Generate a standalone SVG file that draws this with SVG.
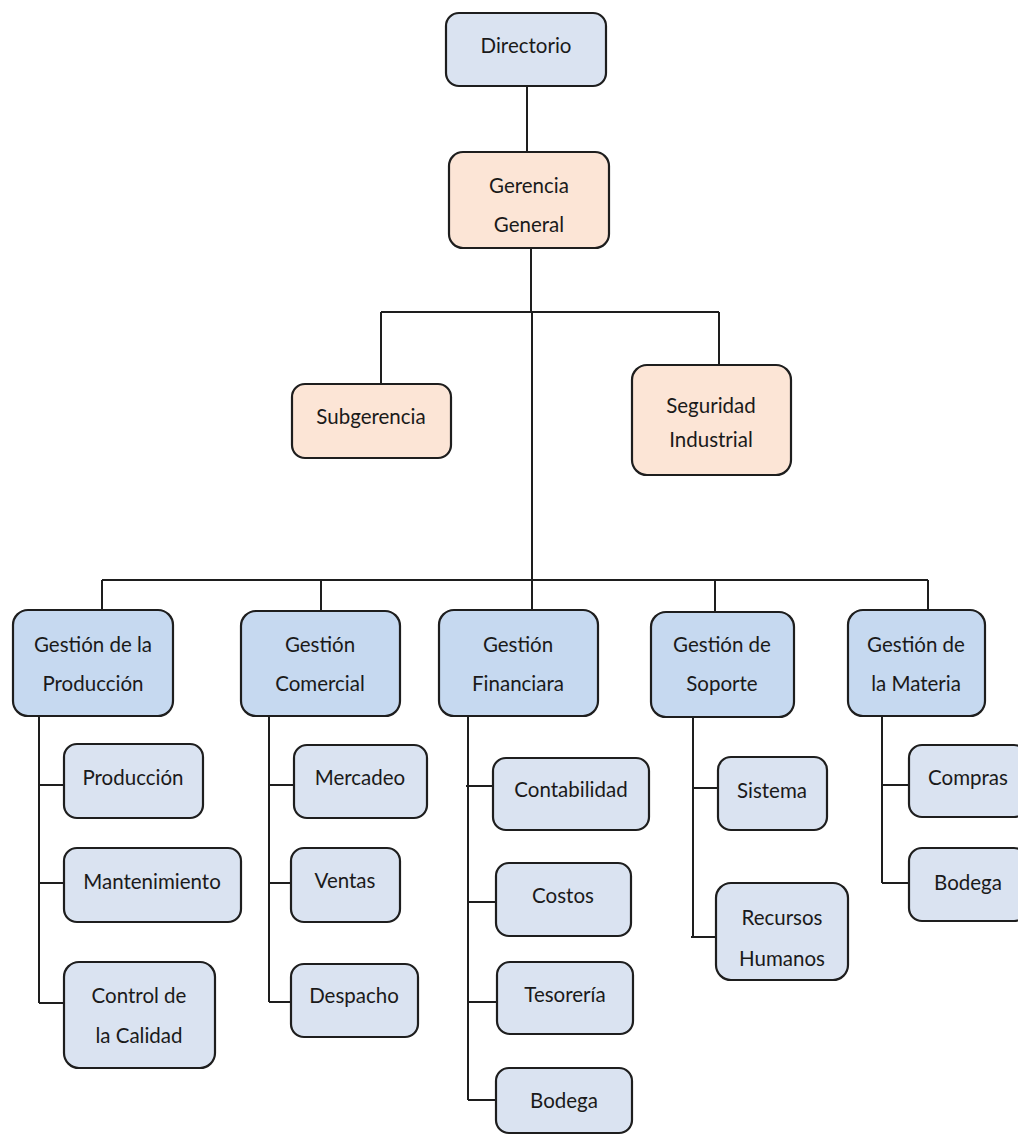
<svg xmlns="http://www.w3.org/2000/svg" width="1018" height="1137" viewBox="0 0 1018 1137">
  <style>
    .box { stroke: #1e1e1e; stroke-width: 2.2; }
    .blue { fill: #dae3f1; }
    .peach { fill: #fce5d6; }
    .mid { fill: #c6d9f0; }
    .lbl { font-family: Lato, "Open Sans", "Liberation Sans", sans-serif; font-size: 20.5px; fill: #1a1a1a; text-anchor: middle; }
    .wire { fill: none; stroke: #1e1e1e; stroke-width: 2; }
  </style>
  <rect width="1018" height="1137" fill="#ffffff"/>

  <!-- connectors -->
  <g id="connectors" class="wire">
    <path d="M527 86V152"/>
    <path d="M531 248V312M381 312H719M381 312V384M719 312V365M532 312V580"/>
    <path d="M102 580H928M102 580V610M321 580V611M532 580V610M715 580V612M928 580V610"/>
    <path d="M39 716V1003M39 785H64M39 883H64M39 1003H64"/>
    <path d="M269 716V1002M269 785H294M269 883H291M269 1002H291"/>
    <path d="M468 716V1100M466 786H493M468 902H496M468 1002H497M468 1100H496"/>
    <path d="M693 717V937M693 788H718M691 937H716"/>
    <path d="M882 716V883M882 785H909M882 883H909"/>
  </g>

  <!-- top levels -->
  <g id="directorio">
    <rect class="box blue" x="446" y="13" width="160" height="73" rx="13"/>
    <text class="lbl" x="526" y="53">Directorio</text>
  </g>
  <g id="gerencia-general">
    <rect class="box peach" x="449" y="152" width="160" height="96" rx="14"/>
    <text class="lbl" x="529" y="193">Gerencia</text>
    <text class="lbl" x="529" y="232">General</text>
  </g>
  <g id="subgerencia">
    <rect class="box peach" x="292" y="384" width="159" height="74" rx="13"/>
    <text class="lbl" x="371" y="424">Subgerencia</text>
  </g>
  <g id="seguridad-industrial">
    <rect class="box peach" x="632" y="365" width="159" height="110" rx="15"/>
    <text class="lbl" x="711" y="413">Seguridad</text>
    <text class="lbl" x="711" y="447">Industrial</text>
  </g>

  <!-- management areas -->
  <g id="gestion-produccion">
    <rect class="box mid" x="13" y="610" width="160" height="106" rx="15"/>
    <text class="lbl" x="93" y="652">Gestión de la</text>
    <text class="lbl" x="93" y="691">Producción</text>
  </g>
  <g id="gestion-comercial">
    <rect class="box mid" x="241" y="611" width="159" height="105" rx="15"/>
    <text class="lbl" x="320" y="652">Gestión</text>
    <text class="lbl" x="320" y="691">Comercial</text>
  </g>
  <g id="gestion-financiara">
    <rect class="box mid" x="439" y="610" width="159" height="106" rx="15"/>
    <text class="lbl" x="518" y="652">Gestión</text>
    <text class="lbl" x="518" y="691">Financiara</text>
  </g>
  <g id="gestion-soporte">
    <rect class="box mid" x="651" y="612" width="143" height="105" rx="15"/>
    <text class="lbl" x="722" y="652">Gestión de</text>
    <text class="lbl" x="722" y="691">Soporte</text>
  </g>
  <g id="gestion-materia">
    <rect class="box mid" x="848" y="610" width="137" height="106" rx="15"/>
    <text class="lbl" x="916" y="652">Gestión de</text>
    <text class="lbl" x="916" y="691">la Materia</text>
  </g>

  <!-- units: producción -->
  <g id="produccion">
    <rect class="box blue" x="64" y="744" width="139" height="74" rx="13"/>
    <text class="lbl" x="133" y="785">Producción</text>
  </g>
  <g id="mantenimiento">
    <rect class="box blue" x="64" y="848" width="177" height="74" rx="13"/>
    <text class="lbl" x="152" y="889">Mantenimiento</text>
  </g>
  <g id="control-calidad">
    <rect class="box blue" x="64" y="962" width="151" height="106" rx="15"/>
    <text class="lbl" x="139" y="1003">Control de</text>
    <text class="lbl" x="139" y="1043">la Calidad</text>
  </g>

  <!-- units: comercial -->
  <g id="mercadeo">
    <rect class="box blue" x="294" y="745" width="133" height="73" rx="13"/>
    <text class="lbl" x="360" y="785">Mercadeo</text>
  </g>
  <g id="ventas">
    <rect class="box blue" x="291" y="848" width="109" height="74" rx="13"/>
    <text class="lbl" x="345" y="888">Ventas</text>
  </g>
  <g id="despacho">
    <rect class="box blue" x="291" y="964" width="127" height="73" rx="13"/>
    <text class="lbl" x="354" y="1003">Despacho</text>
  </g>

  <!-- units: financiara -->
  <g id="contabilidad">
    <rect class="box blue" x="493" y="758" width="156" height="72" rx="13"/>
    <text class="lbl" x="571" y="797">Contabilidad</text>
  </g>
  <g id="costos">
    <rect class="box blue" x="496" y="863" width="135" height="73" rx="13"/>
    <text class="lbl" x="563" y="903">Costos</text>
  </g>
  <g id="tesoreria">
    <rect class="box blue" x="497" y="962" width="136" height="72" rx="13"/>
    <text class="lbl" x="565" y="1002">Tesorería</text>
  </g>
  <g id="bodega-financiara">
    <rect class="box blue" x="496" y="1068" width="136" height="65" rx="13"/>
    <text class="lbl" x="564" y="1108">Bodega</text>
  </g>

  <!-- units: soporte -->
  <g id="sistema">
    <rect class="box blue" x="718" y="757" width="109" height="73" rx="13"/>
    <text class="lbl" x="772" y="798">Sistema</text>
  </g>
  <g id="recursos-humanos">
    <rect class="box blue" x="716" y="883" width="132" height="97" rx="15"/>
    <text class="lbl" x="782" y="925">Recursos</text>
    <text class="lbl" x="782" y="966">Humanos</text>
  </g>

  <!-- units: materia -->
  <g id="compras">
    <rect class="box blue" x="909" y="745" width="118" height="72" rx="13"/>
    <text class="lbl" x="968" y="785">Compras</text>
  </g>
  <g id="bodega-materia">
    <rect class="box blue" x="909" y="848" width="118" height="73" rx="13"/>
    <text class="lbl" x="968" y="890">Bodega</text>
  </g>
</svg>
